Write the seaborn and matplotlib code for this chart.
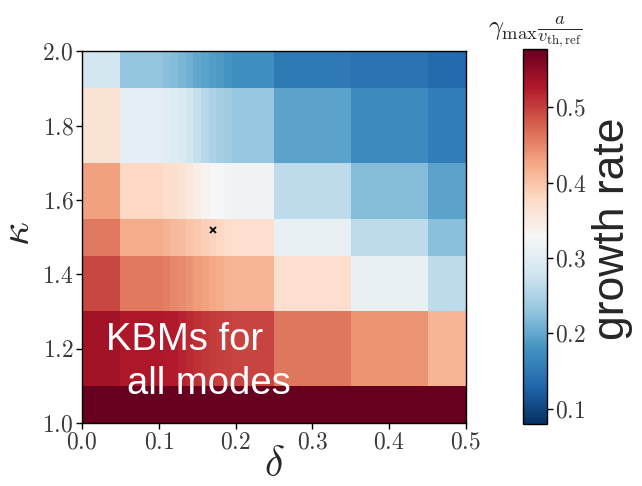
import numpy as np
import seaborn as sns
import matplotlib
matplotlib.use("Agg")
from matplotlib import pyplot as plt
from matplotlib.ticker import FuncFormatter

# delta grid (fine scan between 0.1 and 0.2) and kappa grid
delta = [0.0, 0.10, 0.11, 0.12, 0.13, 0.14, 0.15, 0.16, 0.17, 0.18, 0.19, 0.20, 0.3, 0.4, 0.5]
kappa = [1.0, 1.2, 1.4, 1.5, 1.6, 1.8, 2.0]

# max growth rate, one row per kappa
gamma_k10 = [0.58] * 15
gamma_k12 = [0.537, 0.530, 0.528, 0.525, 0.520, 0.515, 0.510, 0.507, 0.503, 0.500, 0.498, 0.497, 0.462, 0.440, 0.413]
gamma_k14 = [0.495, 0.460, 0.455, 0.450, 0.445, 0.440, 0.435, 0.430, 0.425, 0.420, 0.415, 0.413, 0.370, 0.310, 0.264]
gamma_k15 = [0.460, 0.420, 0.415, 0.410, 0.405, 0.400, 0.395, 0.390, 0.385, 0.380, 0.375, 0.370, 0.310, 0.264, 0.225]
gamma_k16 = [0.430, 0.380, 0.375, 0.370, 0.365, 0.355, 0.345, 0.340, 0.330, 0.325, 0.320, 0.318, 0.264, 0.220, 0.195]
gamma_k18 = [0.365, 0.305, 0.300, 0.295, 0.290, 0.280, 0.270, 0.260, 0.250, 0.245, 0.240, 0.235, 0.195, 0.170, 0.155]
gamma_k20 = [0.280, 0.230, 0.225, 0.220, 0.215, 0.210, 0.200, 0.195, 0.190, 0.185, 0.180, 0.175, 0.150, 0.145, 0.135]

# nominal point
ref_delta = [0.17]
ref_kappa = [1.52]

cbar_ticks = [0.1, 0.2, 0.3, 0.4, 0.5]

sns.set_style("white")
plt.rcParams["mathtext.fontset"] = "cm"
plt.rcParams["font.family"] = ["Liberation Sans", "DejaVu Sans"]

gamma = np.array([gamma_k10, gamma_k12, gamma_k14, gamma_k15, gamma_k16, gamma_k18, gamma_k20])


def cell_edges(c):
    c = np.asarray(c)
    mid = (c[:-1] + c[1:]) / 2
    return np.concatenate([[c[0]], mid, [c[-1]]])


fig = plt.figure(figsize=(6.42, 4.86), dpi=100)
ax = fig.add_axes([0.1277, 0.1296, 0.598, 0.765])
cax = fig.add_axes([0.8146, 0.1276, 0.0374, 0.7716])

cmap = sns.color_palette("RdBu_r", as_cmap=True)
mesh = ax.pcolormesh(cell_edges(delta), cell_edges(kappa), gamma,
                     cmap=cmap, vmin=0.08, vmax=0.577, shading="flat")
ax.plot(ref_delta, ref_kappa, marker="x", color="black", ms=5, mew=1.3, ls="none")

ax.set_xlim(0, 0.5)
ax.set_ylim(1.0, 2.0)
ax.set_xticks([0.0, 0.1, 0.2, 0.3, 0.4, 0.5])
ax.set_yticks([1.0, 1.2, 1.4, 1.6, 1.8, 2.0])
fmt = FuncFormatter(lambda v, p: f"${v:.1f}$")
ax.xaxis.set_major_formatter(fmt)
ax.yaxis.set_major_formatter(fmt)
ax.tick_params(direction="out", length=4, width=1, labelsize=17, color="black",
               labelcolor="#3a3a3a", pad=2, left=True, bottom=True)
for s in ax.spines.values():
    s.set_color("black")
    s.set_linewidth(1)

ax.set_xlabel(r"$\delta$", fontsize=30, labelpad=-6)
ax.set_ylabel(r"$\kappa$", fontsize=30)
ax.yaxis.set_label_coords(-0.115, 0.51)

ax.text(0.0625, 0.196, "KBMs for", transform=ax.transAxes, color="white", fontsize=27.5)
ax.text(0.117, 0.078, "all modes", transform=ax.transAxes, color="white", fontsize=27.5)

cb = fig.colorbar(mesh, cax=cax, ticks=cbar_ticks)
cb.ax.yaxis.set_major_formatter(fmt)
cb.ax.tick_params(labelsize=17, length=4, width=1, color="black", labelcolor="#3a3a3a", pad=2)
cb.outline.set_edgecolor("black")
cb.outline.set_linewidth(1)
cax.set_title(r"$\gamma_{\max}\frac{a}{v_{\mathrm{th,ref}}}$", fontsize=19, pad=7)

fig.text(0.954, 0.53, "growth rate", rotation=90, fontsize=32, ha="center", va="center")

fig.savefig("out.png", dpi=100)
